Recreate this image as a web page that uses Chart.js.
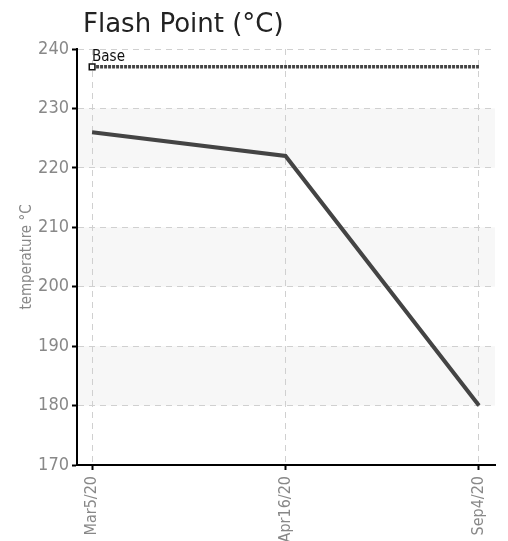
<!DOCTYPE html>
<html>
<head>
<meta charset="utf-8">
<script src="https://cdn.jsdelivr.net/npm/chart.js@4"></script>
<style>
  html, body { margin: 0; padding: 0; background: #fff; }
  #wrap { width: 508px; height: 541px; }
</style>
</head>
<body>
<div id="wrap"><canvas id="canvas"></canvas></div>
<script>
  const title = "Flash Point (°C)";
  const dates = ["Mar5/20", "Apr16/20", "Sep4/20"];
  const flashPoint = [226, 222, 180];
  const baseValue = [237, 237, 237];
  const yTicks = [170, 180, 190, 200, 210, 220, 230, 240];
  const bands = [[180, 190], [200, 210], [220, 230]];

  const narrow = "'DejaVu Sans Condensed', 'Liberation Sans Narrow', sans-serif";

  // light stripes behind the grid
  const bandPlugin = {
    id: "bands",
    beforeDraw(chart) {
      const { ctx, chartArea, scales } = chart;
      ctx.save();
      ctx.fillStyle = "#f7f7f7";
      bands.forEach(b => {
        const y1 = scales.y.getPixelForValue(b[1]);
        const y0 = scales.y.getPixelForValue(b[0]);
        ctx.fillRect(chartArea.left, y1, chartArea.right - chartArea.left, y0 - y1);
      });
      ctx.restore();
    }
  };

  // title sits left of centre, so draw it by hand
  const titlePlugin = {
    id: "leftTitle",
    afterDraw(chart) {
      const ctx = chart.ctx;
      ctx.save();
      ctx.font = "26px 'DejaVu Sans', sans-serif";
      ctx.fillStyle = "#222";
      ctx.textBaseline = "alphabetic";
      ctx.textAlign = "left";
      ctx.fillText(title, 83, 32);
      ctx.restore();
    }
  };

  // "Base" label over the first marker
  const baseLabel = {
    id: "baseLabel",
    afterDatasetsDraw(chart) {
      const pt = chart.getDatasetMeta(1).data[0];
      if (!pt) return;
      const ctx = chart.ctx;
      ctx.save();
      ctx.font = "15px " + narrow;
      ctx.fillStyle = "#111";
      ctx.textBaseline = "bottom";
      ctx.textAlign = "left";
      ctx.fillText("Base", pt.x, pt.y - 2);
      ctx.restore();
    }
  };

  const ctx = document.getElementById("canvas").getContext("2d");

  new Chart(ctx, {
    type: "line",
    data: {
      datasets: [
        {
          data: flashPoint.map((v, i) => ({ x: i, y: v })),
          borderColor: "#444",
          borderWidth: 4,
          pointRadius: 0,
          tension: 0,
          fill: false
        },
        {
          data: baseValue.map((v, i) => ({ x: i, y: v })),
          borderColor: "#444",
          borderWidth: 3.5,
          borderDash: [3, 1],
          pointStyle: "rect",
          pointRadius: [4, 0, 0],
          pointBorderColor: "#111",
          pointBorderWidth: 1.5,
          pointBackgroundColor: "#fff",
          tension: 0,
          fill: false
        }
      ]
    },
    options: {
      responsive: true,
      maintainAspectRatio: false,
      animation: false,
      layout: { padding: { left: 0, right: 13, top: 49, bottom: 0 } },
      plugins: {
        legend: { display: false },
        tooltip: { enabled: false },
        title: { display: false }
      },
      scales: {
        x: {
          type: "linear",
          min: -0.078,
          max: 2.083,
          afterBuildTicks(axis) {
            axis.ticks = dates.map((_, i) => ({ value: i }));
          },
          afterFit(axis) { axis.height = 76; },
          ticks: {
            color: "#888",
            font: { family: narrow, size: 16 },
            minRotation: 90,
            maxRotation: 90,
            padding: 6,
            callback: v => dates[v]
          },
          grid: {
            color: "#d0d0d0",
            tickColor: "#000",
            tickLength: 5,
            tickWidth: 2,
            tickBorderDash: []
          },
          border: { color: "#000", width: 2, dash: [6, 5] }
        },
        y: {
          min: 170,
          max: 240,
          afterBuildTicks(axis) {
            axis.ticks = yTicks.map(v => ({ value: v }));
          },
          afterFit(axis) { axis.width = 77; },
          ticks: {
            color: "#888",
            font: { family: narrow, size: 18 },
            padding: 3
          },
          title: {
            display: true,
            text: "temperature °C",
            color: "#888",
            font: { family: narrow, size: 15 },
            padding: { top: 18, bottom: 0 }
          },
          grid: {
            color: "#d0d0d0",
            tickColor: "#000",
            tickLength: 5,
            tickWidth: 2,
            tickBorderDash: []
          },
          border: { color: "#000", width: 2, dash: [6, 5] }
        }
      }
    },
    plugins: [bandPlugin, titlePlugin, baseLabel]
  });
</script>
</body>
</html>
